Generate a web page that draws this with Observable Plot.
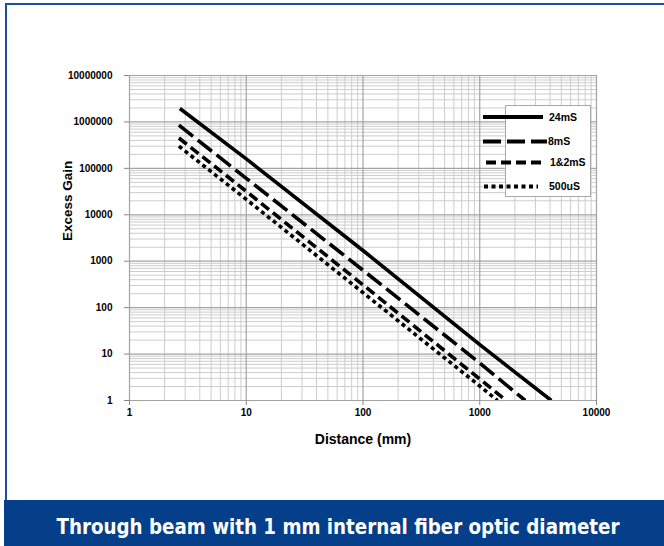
<!DOCTYPE html>
<html><head><meta charset="utf-8">
<script src="https://cdn.jsdelivr.net/npm/d3@7"></script>
<script src="https://cdn.jsdelivr.net/npm/@observablehq/plot@0.6"></script>
<style>
body{margin:0;background:#fff;}
#wrap{position:relative;width:664px;height:546px;overflow:hidden;background:#fff;}
#chart{position:absolute;left:0;top:0;}
#topline{position:absolute;left:5px;top:3px;width:659px;height:2px;background:#1d4f9c;}
#leftline{position:absolute;left:5px;top:3px;width:2px;height:497px;background:#1d4f9c;}
#banner{position:absolute;left:4px;top:500px;width:660px;height:46px;background:#053f8a;}
#banner svg{display:block;}
</style></head>
<body><div id="wrap"><div id="chart"></div><div id="topline"></div><div id="leftline"></div><div id="banner"></div></div>
<script>
// ---- data ----
const seriesNames = ["24mS", "8mS", "1&2mS", "500uS"];
const dist24 = [2.7, 10, 100, 1000, 4100];
const gain24 = [1950000, 160000, 1700, 16, 1];
const dist8 = [2.65, 10, 100, 1000, 2450];
const gain8 = [850000, 61000, 640, 6.4, 1];
const dist12 = [2.65, 10, 100, 1000, 1680];
const gain12 = [450000, 32000, 310, 2.9, 1];
const dist500 = [2.65, 10, 100, 1000, 1420];
const gain500 = [300000, 21500, 210, 2.05, 1];
const xTicks = [1, 10, 100, 1000, 10000];
const yTicks = [1, 10, 100, 1000, 10000, 100000, 1000000, 10000000];
const xLabel = "Distance (mm)";
const yLabel = "Excess Gain";
const caption = "Through beam with 1 mm internal fiber optic diameter";

const dashes = [null, "18,6", "10,5", "4,3.5"];
const seriesDist = [dist24, dist8, dist12, dist500];
const seriesGain = [gain24, gain8, gain12, gain500];

const xMinor = [];
xTicks.slice(0, -1).forEach(d => { for (let k = 2; k <= 9; k++) xMinor.push(d * k); });
const yMinor = [];
yTicks.slice(0, -1).forEach(d => { for (let k = 2; k <= 9; k++) yMinor.push(d * k); });

const lineMarks = seriesNames.map((name, i) => {
  const data = seriesDist[i].map((d, j) => ({d, g: seriesGain[i][j]}));
  return Plot.line(data, {x: "d", y: "g", stroke: "black", strokeWidth: 3.6,
    strokeDasharray: dashes[i] || undefined, strokeLinecap: "butt", clip: true});
});

const plot = Plot.plot({
  width: 664, height: 500,
  marginLeft: 129, marginRight: 68, marginTop: 75, marginBottom: 100,
  style: {fontFamily: "'Liberation Sans', Arial, sans-serif", fontWeight: "bold", background: "transparent", color: "black"},
  x: {type: "log", domain: [1, 10000]},
  y: {type: "log", domain: [1, 10000000]},
  marks: [
    Plot.ruleX(xMinor, {stroke: "#cdcdcd", strokeWidth: 1}),
    Plot.ruleY(yMinor, {stroke: "#cdcdcd", strokeWidth: 1}),
    Plot.ruleX(xTicks, {stroke: "#a3a3a3", strokeWidth: 1.2}),
    Plot.ruleY(yTicks, {stroke: "#a3a3a3", strokeWidth: 1.2}),
    Plot.axisX({ticks: xTicks, tickFormat: d => String(d), tickSize: 5, tickPadding: 3, fontSize: 10, stroke: "#888", label: null}),
    Plot.axisY({ticks: yTicks, tickFormat: d => String(d), tickSize: 5, tickPadding: 12, fontSize: 10, stroke: "#888", label: null}),
    ...lineMarks,
    Plot.text([xLabel], {frameAnchor: "bottom", dy: 43, fontSize: 14, fontWeight: "bold"}),
    Plot.text([yLabel], {frameAnchor: "left", dx: -62, dy: 3, rotate: -90, fontSize: 13.5, fontWeight: "bold"})
  ]
});
document.getElementById("chart").appendChild(plot);

// legend
const svg = d3.select(plot);
const lg = svg.append("g").attr("text-anchor", "start");
lg.append("rect").attr("x", 505.5).attr("y", 105.5).attr("width", 85).attr("height", 91)
  .attr("fill", "white").attr("stroke", "#a8a8a8");
const legY = [117, 141.5, 162.5, 186.5];
const legX1 = [483, 483, 486, 484];
const legX2 = [543, 547, 544, 538];
const legTx = [549, 548, 550, 549];
seriesNames.forEach((name, i) => {
  lg.append("line").attr("x1", legX1[i]).attr("x2", legX2[i]).attr("y1", legY[i]).attr("y2", legY[i])
    .attr("stroke", "black").attr("stroke-width", 4).attr("stroke-dasharray", dashes[i] || null);
  lg.append("text").attr("x", legTx[i]).attr("y", legY[i]).attr("dy", "0.35em")
    .attr("text-anchor", "start")
    .attr("font-size", 10.5).attr("font-weight", "bold").attr("fill", "black").text(name);
});

// caption banner
const b = d3.select("#banner").append("svg").attr("width", 660).attr("height", 46);
b.append("text").attr("x", 334).attr("y", 34).attr("text-anchor", "middle")
  .attr("fill", "white").attr("font-family", "'DejaVu Sans Condensed', 'DejaVu Sans', sans-serif")
  .attr("font-weight", "bold").attr("font-size", 21)
  .attr("textLength", 563).attr("lengthAdjust", "spacingAndGlyphs").text(caption);
</script>
</body></html>
